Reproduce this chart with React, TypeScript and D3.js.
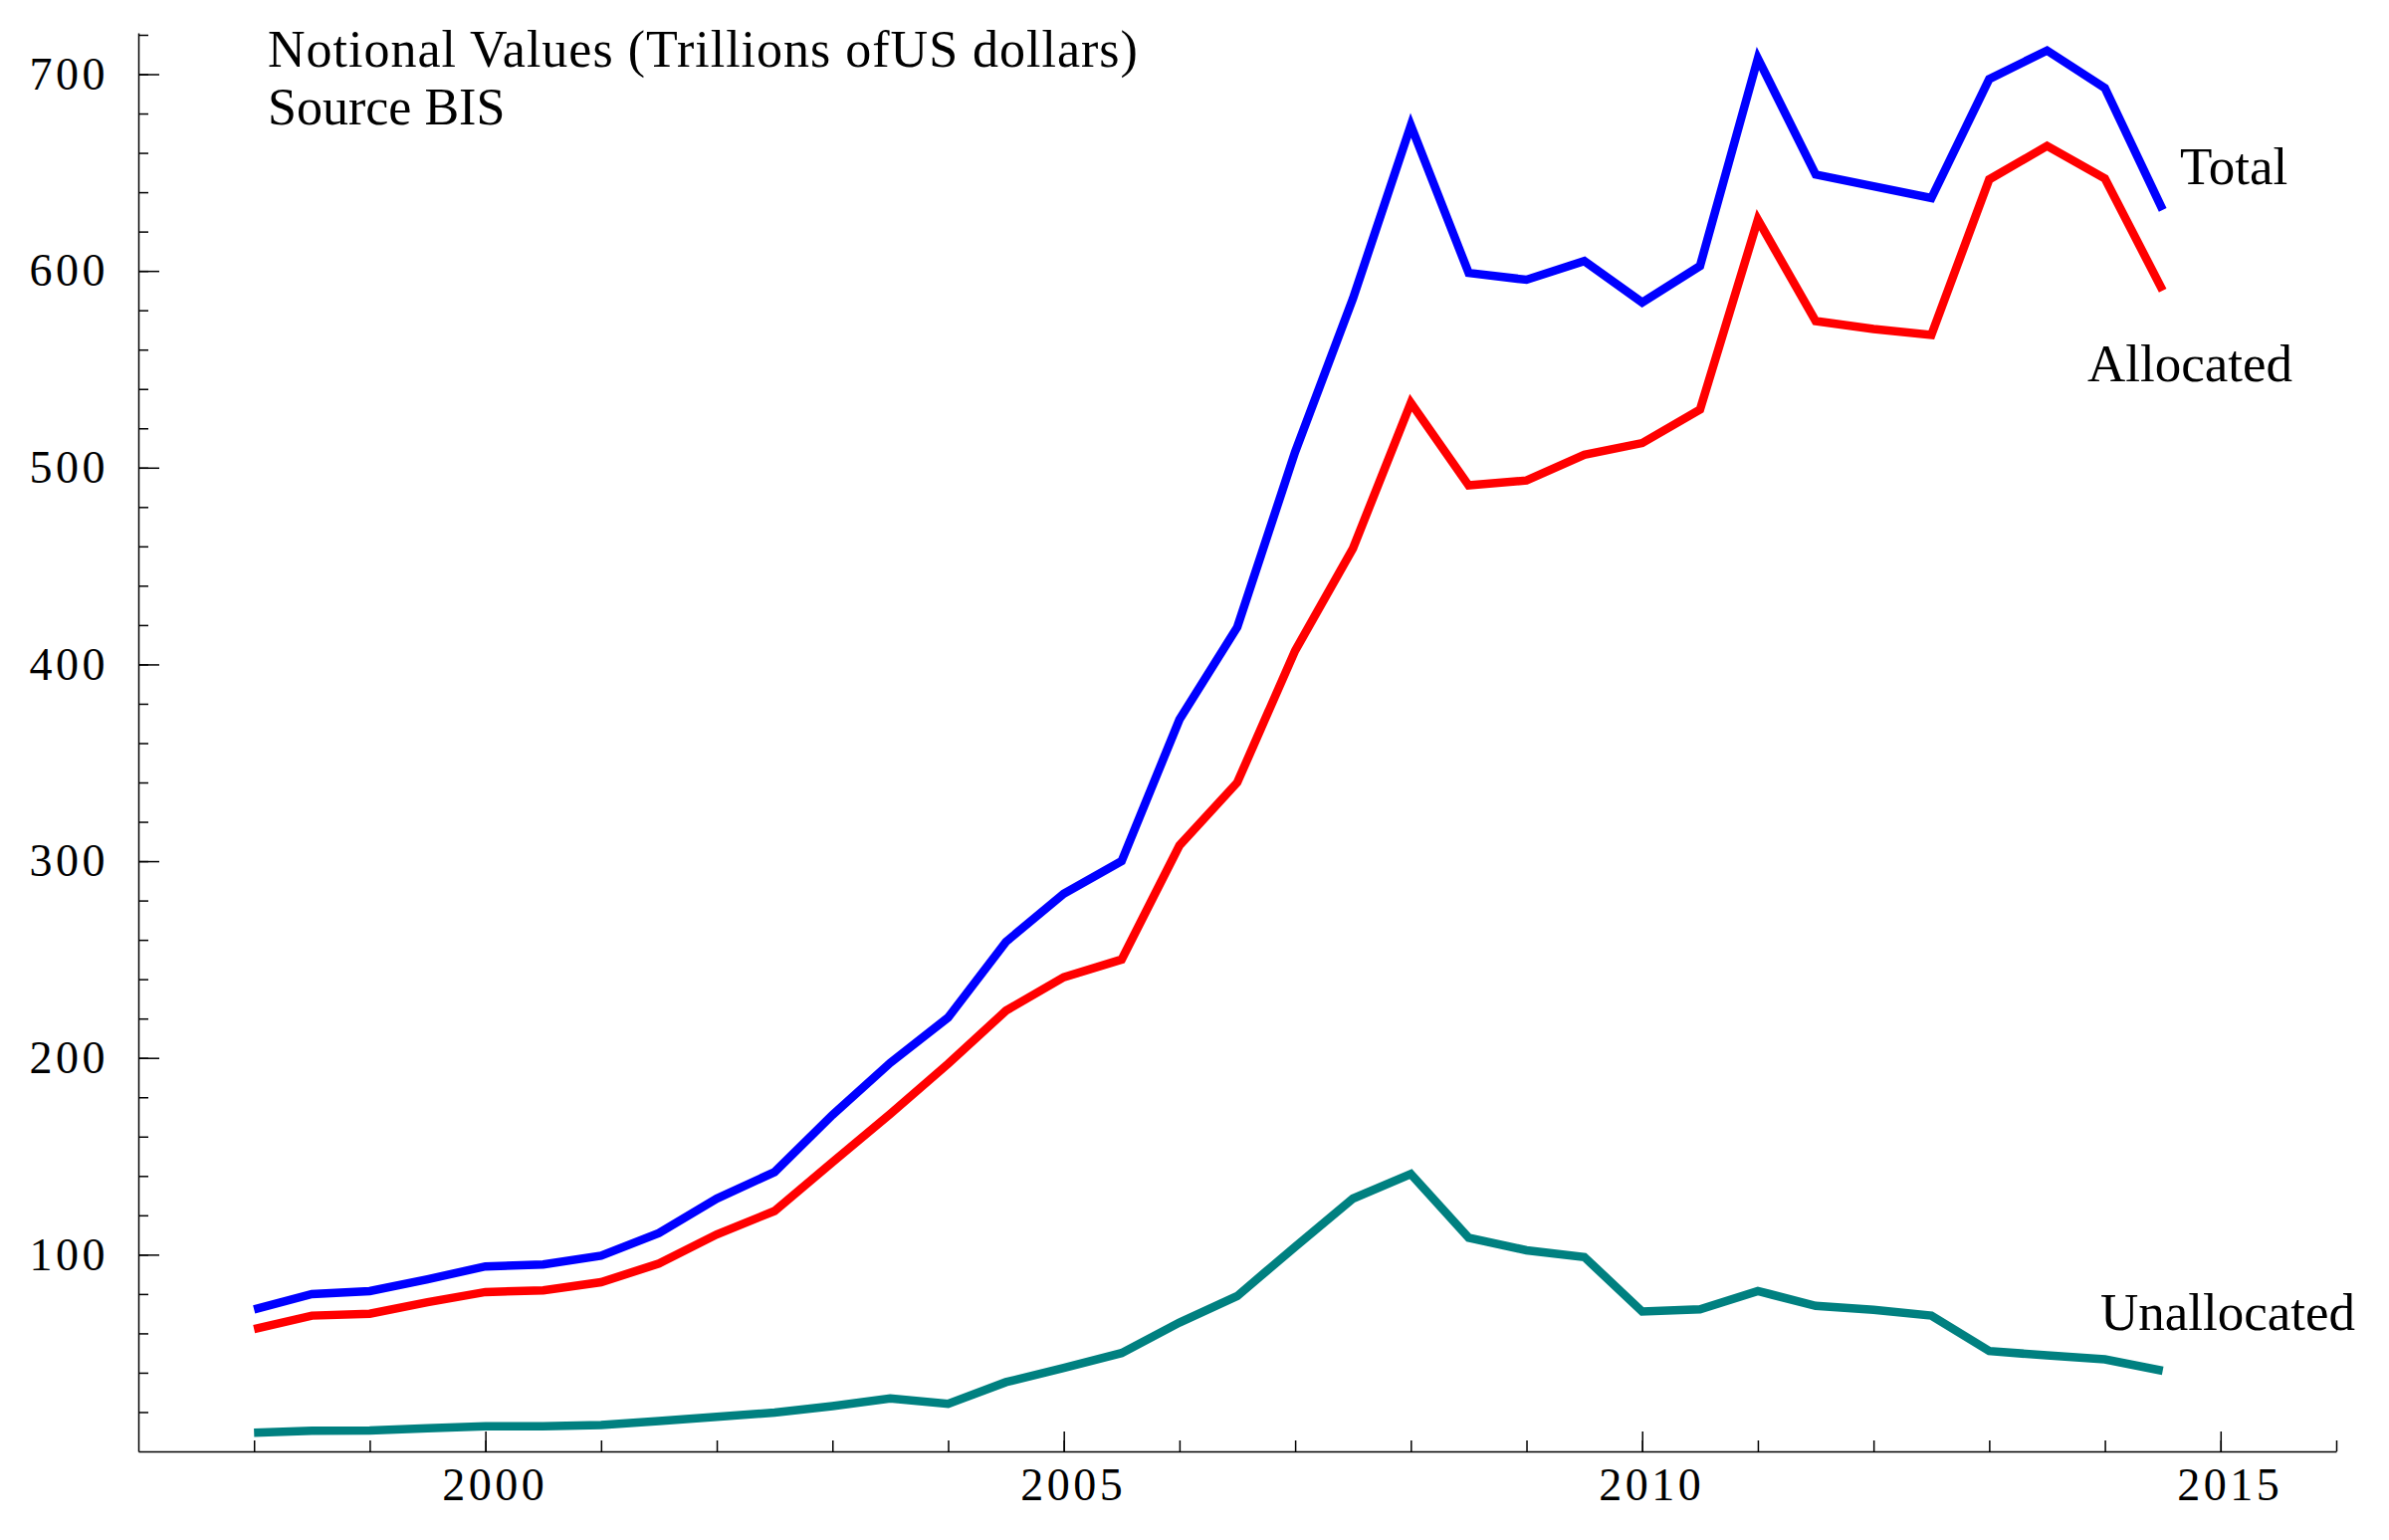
import React, { useEffect, useRef } from "react";
import { select, scaleLinear, line, axisLeft, axisBottom, range } from "d3";

// half-yearly observations, notional values in trillions of US dollars
const periods = [
  1998, 1998.5, 1999, 1999.5, 2000, 2000.5, 2001, 2001.5, 2002, 2002.5,
  2003, 2003.5, 2004, 2004.5, 2005, 2005.5, 2006, 2006.5, 2007, 2007.5,
  2008, 2008.5, 2009, 2009.5, 2010, 2010.5, 2011, 2011.5, 2012, 2012.5,
  2013, 2013.5, 2014, 2014.5,
];

const total = [
  72.2, 80, 81.5, 87.5, 94, 95, 99.5, 111, 128.5, 142,
  171, 197.5, 220.5, 259, 283.5, 300, 372, 419, 508, 586,
  674, 599, 595.5, 605, 584, 602.5, 708, 649, 643, 637,
  697.5, 712, 693, 631,
];

const allocated = [
  62.2, 69, 70, 75.8, 81, 81.8, 86, 95.5, 110.3, 122.2,
  147, 171.5, 197, 224, 241, 250, 308, 340, 407, 459,
  533, 491, 493.5, 506.5, 512.5, 529.5, 626, 574.5, 570.5, 567.5,
  646.5, 663.5, 647, 590,
];

const unallocated = [
  9.5, 10.5, 10.6, 11.8, 12.8, 12.8, 13.4, 15.4, 17.6, 19.7,
  23, 26.9, 24.2, 35.2, 42.5, 50, 65.5, 79, 104, 128.5,
  141, 108.6, 102.2, 98.8, 71.1, 72.2, 81.5, 74, 72, 69,
  51, 48.8, 46.8, 41,
];

const seriesNames = ["Total", "Allocated", "Unallocated"];
const seriesColors = ["#0000ff", "#ff0000", "#008080"];

const xMajorTicks = [2000, 2005, 2010, 2015];
const yMajorTicks = [100, 200, 300, 400, 500, 600, 700];

const titleLines = ["Notional Values (Trillions ofUS dollars)", "Source BIS"];

const W = 2400;
const H = 1547;
const FONT = "'Liberation Serif', 'Times New Roman', serif";

const App: React.FC = () => {
  const svgRef = useRef<SVGSVGElement>(null);

  useEffect(() => {
    if (!svgRef.current) return;
    const svg = select(svgRef.current);
    svg.selectAll("*").remove();

    const x = scaleLinear().domain([1997, 2016]).range([139, 2347]);
    const y = scaleLinear().domain([0, 721]).range([1458, 33]);

    // minor ticks (inward)
    svg
      .append("g")
      .attr("transform", `translate(0,${y(0)})`)
      .call(
        axisBottom(x)
          .tickValues(range(1998, 2017))
          .tickSize(-11)
          .tickSizeOuter(0)
          .tickFormat(() => "")
      )
      .call((g) => g.select(".domain").remove());

    svg
      .append("g")
      .attr("transform", `translate(${x(1997)},0)`)
      .call(
        axisLeft(y)
          .tickValues(range(20, 721, 20))
          .tickSize(-10)
          .tickSizeOuter(0)
          .tickFormat(() => "")
      )
      .call((g) => g.select(".domain").remove());

    // major ticks with labels
    const xAxis = svg
      .append("g")
      .attr("transform", `translate(0,${y(0)})`)
      .call(
        axisBottom(x)
          .tickValues(xMajorTicks)
          .tickSize(-20)
          .tickSizeOuter(0)
          .tickPadding(16)
          .tickFormat((d) => String(d))
      );
    xAxis
      .selectAll("text")
      .attr("dx", 9)
      .style("font-family", FONT)
      .style("font-size", "46px")
      .style("letter-spacing", "3.5px")
      .attr("fill", "#000");

    const yAxis = svg
      .append("g")
      .attr("transform", `translate(${x(1997)},0)`)
      .call(
        axisLeft(y)
          .tickValues(yMajorTicks)
          .tickSize(-21)
          .tickSizeOuter(0)
          .tickPadding(30)
          .tickFormat((d) => String(d))
      );
    yAxis
      .selectAll("text")
      .style("font-family", FONT)
      .style("font-size", "46px")
      .style("letter-spacing", "3.5px")
      .attr("fill", "#000");

    svg.selectAll(".domain, .tick line").attr("stroke", "#000").attr("stroke-width", 1.5);

    // series
    const seriesData = [total, allocated, unallocated];
    const gen = line<number>()
      .x((_, i) => x(periods[i]))
      .y((d) => y(d));

    seriesData.forEach((vals, k) => {
      svg
        .append("path")
        .datum(vals)
        .attr("fill", "none")
        .attr("stroke", seriesColors[k])
        .attr("stroke-width", 8.5)
        .attr("stroke-linejoin", "miter")
        .attr("d", gen);
    });

    // series labels
    const labelPos = [
      { x: 2190, y: 185 },
      { x: 2097, y: 383 },
      { x: 2110, y: 1336 },
    ];
    seriesNames.forEach((name, k) => {
      svg
        .append("text")
        .attr("x", labelPos[k].x)
        .attr("y", labelPos[k].y)
        .style("font-family", FONT)
        .style("font-size", "53px")
        .attr("fill", "#000")
        .text(name);
    });

    // title block
    titleLines.forEach((t, i) => {
      svg
        .append("text")
        .attr("x", 269)
        .attr("y", 67 + i * 58)
        .style("font-family", FONT)
        .style("font-size", "52px")
        .style("letter-spacing", i === 0 ? "1px" : "0px")
        .attr("fill", "#000")
        .text(t);
    });
  }, []);

  return (
    <svg
      ref={svgRef}
      width={W}
      height={H}
      viewBox={`0 0 ${W} ${H}`}
      style={{ position: "absolute", left: 0, top: 0, background: "#fff" }}
    />
  );
};

export default App;
